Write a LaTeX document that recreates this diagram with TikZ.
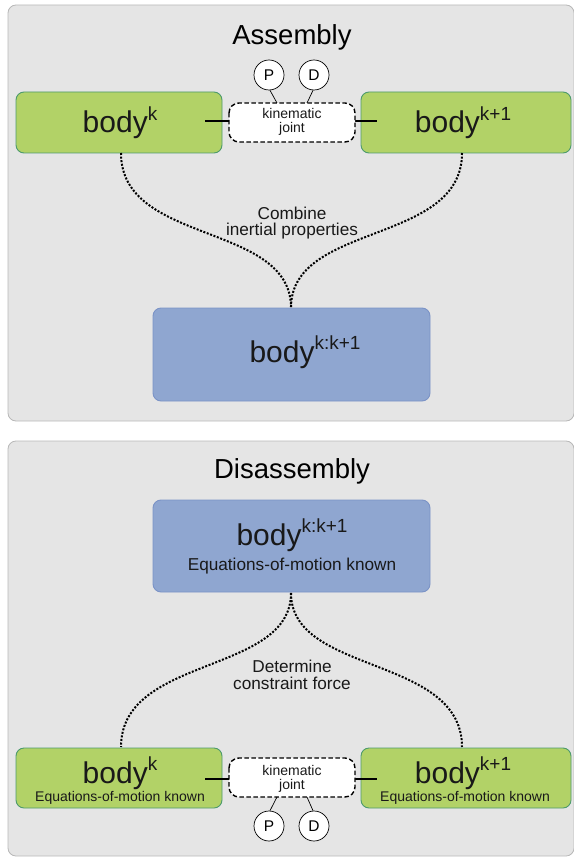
\documentclass[tikz,border=0pt]{standalone}
\usepackage{fontspec}
\setmainfont{Liberation Sans}
\begin{document}
\begin{tikzpicture}[x=1pt,y=-1pt,
  panel/.style={draw=black!28,fill=black!10,line width=0.8pt,rounded corners=8pt},
  greenbox/.style={draw=greendraw,fill=greenfill,line width=0.9pt,rounded corners=8pt},
  bluebox/.style={draw=bluedraw,fill=bluefill,line width=0.9pt,rounded corners=8pt},
  jointbox/.style={draw=black,fill=white,dashed,dash pattern=on 4.5pt off 2.5pt,line width=1.4pt,rounded corners=10pt},
  pdcircle/.style={circle,draw=black,fill=white,line width=0.7pt,minimum size=30pt,inner sep=0pt,font=\fontsize{15.5}{15.5}\selectfont},
  dots/.style={line width=2pt,dash pattern=on 2pt off 1.6pt},
  title/.style={anchor=base,font=\fontsize{27.5}{28}\selectfont},
  bodytxt/.style={anchor=base,font=\fontsize{30}{30}\selectfont,text=black!90},
  small/.style={anchor=base,font=\fontsize{17.2}{17}\selectfont,text=black!90},
  tiny/.style={anchor=base,font=\fontsize{14}{14}\selectfont,text=black!90},
  link/.style={line width=1.5pt},
  thin/.style={line width=0.7pt}]
\definecolor{greenfill}{HTML}{B2D267}
\definecolor{greendraw}{HTML}{4C9A6C}
\definecolor{bluefill}{HTML}{8FA6D0}
\definecolor{bluedraw}{HTML}{7B93C6}
\newcommand{\sps}[1]{\raisebox{0.42em}{\fontsize{19}{19}\selectfont #1}}
\useasboundingbox (0,0) rectangle (573,858);
% panels
\path[panel] (8,5) rectangle (574,421);
\path[panel] (8,441) rectangle (574,856);
% ---------- Assembly ----------
\node[title] (t1) at (292,45) {Assembly};
\path[greenbox] (16,92) rectangle (222,153);
\path[greenbox] (361,92) rectangle (571,153);
\coordinate (g1b) at (121,153);
\coordinate (g2b) at (462,153);
\node[bodytxt] (b1) at (120,133) {body\sps{k}};
\node[bodytxt] (b2) at (463,133) {body\sps{k+1}};
\coordinate (l1a) at (205,121); \coordinate (l1b) at (243,121);
\coordinate (r1a) at (339,121); \coordinate (r1b) at (377,121);
\draw[link] (l1a) -- (l1b);
\draw[link] (r1a) -- (r1b);
\path[jointbox] (229,103) rectangle (355,142);
\node[tiny] (kj1) at (292,119) {kinematic};
\node[tiny] (kj1b) at (292,133) {joint};
\node[pdcircle] (P1) at (269,75) {P};
\node[pdcircle] (D1) at (314,75) {D};
\coordinate (p1e) at (277,103); \coordinate (d1e) at (307,103);
\draw[thin] (P1.south) ++(1,0) -- (p1e);
\draw[thin] (D1.south) ++(-1,0) -- (d1e);
\path[bluebox] (153,308) rectangle (430,401);
\coordinate (bl1t) at (291,307);
\node[bodytxt] (bk1) at (305,362) {body\sps{k:k+1}};
\draw[dots] (g1b) .. controls (121,245) and (290,222) .. (bl1t);
\draw[dots] (g2b) .. controls (462,245) and (292,222) .. (bl1t);
\node[small] (c1) at (292,220) {Combine};
\node[small] (c2) at (292,236) {inertial properties};
% ---------- Disassembly ----------
\node[title] (t2) at (292,478) {Disassembly};
\path[bluebox] (153,500) rectangle (430,592);
\node[bodytxt] (bk2) at (292,545) {body\sps{k:k+1}};
\node[small] (e0) at (292,570) {Equations-of-motion known};
\coordinate (bl2b) at (291,593);
\coordinate (g3t) at (121,747);
\coordinate (g4t) at (462,747);
\draw[dots] (bl2b) .. controls (291,675) and (121,655) .. (g3t);
\draw[dots] (bl2b) .. controls (291,675) and (462,655) .. (g4t);
\node[small] (d1) at (292,672) {Determine};
\node[small] (d2) at (292,689) {constraint force};
\path[greenbox] (16,748) rectangle (222,808);
\path[greenbox] (361,748) rectangle (571,808);
\node[bodytxt] (b3) at (120,783) {body\sps{k}};
\node[bodytxt] (b4) at (463,783) {body\sps{k+1}};
\node[tiny] (e1) at (120,801) {Equations-of-motion known};
\node[tiny] (e2) at (465,801) {Equations-of-motion known};
\coordinate (l2a) at (205,779); \coordinate (l2b) at (243,779);
\coordinate (r2a) at (339,779); \coordinate (r2b) at (377,779);
\draw[link] (l2a) -- (l2b);
\draw[link] (r2a) -- (r2b);
\path[jointbox] (229,758) rectangle (355,797);
\node[tiny] (kj2) at (292,775) {kinematic};
\node[tiny] (kj2b) at (292,789) {joint};
\node[pdcircle] (P2) at (269,826) {P};
\node[pdcircle] (D2) at (314,826) {D};
\coordinate (p2e) at (277,797); \coordinate (d2e) at (307,797);
\draw[thin] (P2.north) ++(1,0) -- (p2e);
\draw[thin] (D2.north) ++(-1,0) -- (d2e);
\end{tikzpicture}
\end{document}
